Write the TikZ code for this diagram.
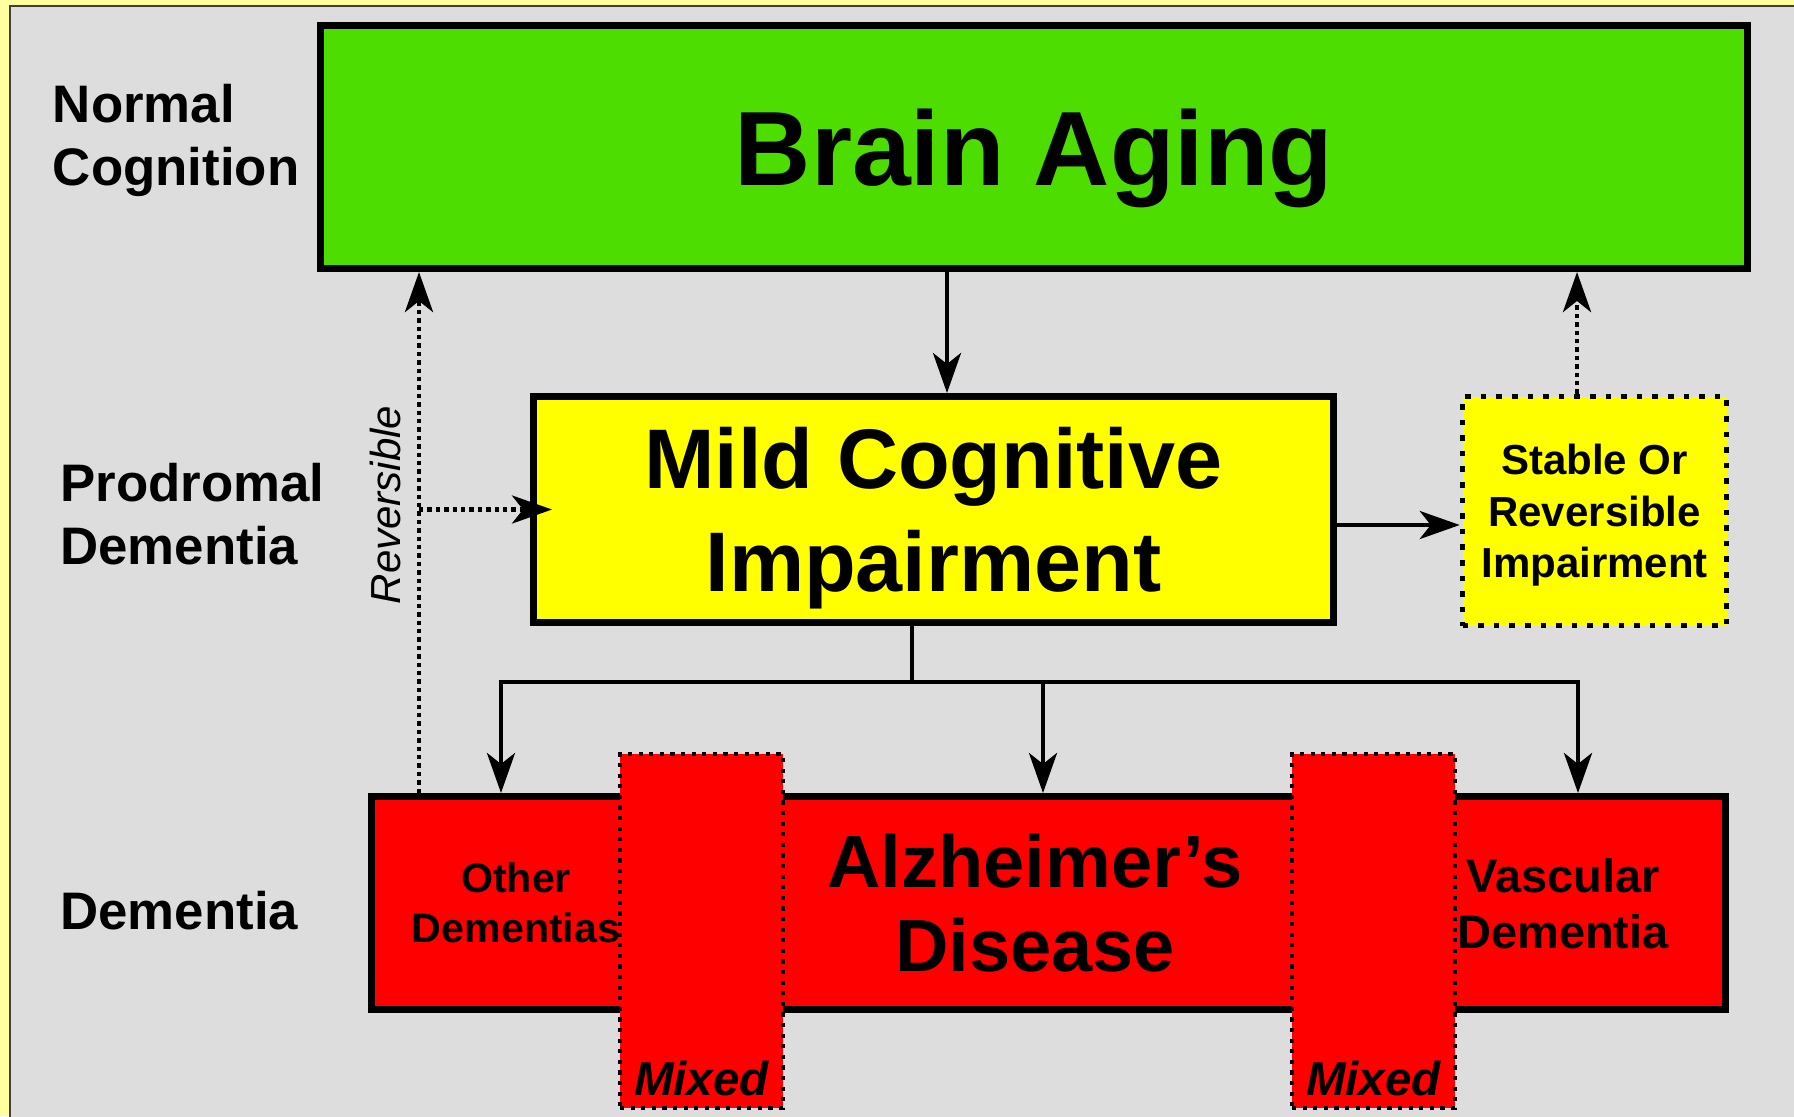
\documentclass[tikz,border=0pt]{standalone}
\usepackage{fontspec}
\setmainfont{Liberation Sans}
\usetikzlibrary{arrows.meta}
\definecolor{paleyellow}{HTML}{FFFFA0}
\definecolor{panelgray}{HTML}{DDDDDD}
\definecolor{braingreen}{HTML}{4EDD00}
\definecolor{mciyellow}{HTML}{FFFF00}
\definecolor{demred}{HTML}{FF0000}

\begin{document}
\begin{tikzpicture}[x=0.5pt,y=-0.5pt,
	box/.style={draw, line width=3.5pt, inner sep=0pt, align=center, text depth=0pt},
	mixbox/.style={draw, fill=demred, line width=2.1pt, dash pattern=on 2.1pt off 3.2pt, inner sep=0pt,
		minimum width=81.5pt, minimum height=177pt},
	rowlabel/.style={font=\bfseries\fontsize{26.4}{31.5}\selectfont, align=left, inner sep=0pt},
	demtext/.style={inner sep=0pt, align=center},
	arr/.style={line width=2.2pt, -{Stealth[length=20pt,width=14pt,inset=5.5pt]}},
	dotarr/.style={arr, line width=2.4pt, dash pattern=on 2.2pt off 2pt}]

	\useasboundingbox (0,0) rectangle (1794,1116);
	\fill[paleyellow] (0,0) rectangle (1794,1116);
	\filldraw[fill=panelgray, draw=black!75, line width=0.6pt] (10,6) rectangle (1804,1126);

	% row labels
	\node[rowlabel, anchor=west] (normal) at (52.5,140) {Normal\\Cognition};
	\node[rowlabel, anchor=west] (prodromal) at (60,514.6) {Prodromal\\Dementia};
	\node[rowlabel, anchor=base west] (dementia) at (60,929) {Dementia};

	% boxes
	\node[box, fill=braingreen, minimum width=713.5pt, minimum height=121.5pt,
		font=\bfseries\fontsize{52.8}{60}\selectfont] (brain) at (1034,147) {Brain Aging};
	\node[box, fill=mciyellow, minimum width=400pt, minimum height=113pt,
		font=\bfseries\fontsize{42.3}{51.5}\selectfont] (mci) at (933.5,509.5) {Mild Cognitive\\Impairment};
	\node[box, fill=mciyellow, line width=2.75pt, dash pattern=on 2.8pt off 5pt,
		minimum width=132pt, minimum height=114.5pt,
		font=\bfseries\fontsize{21}{25.75}\selectfont] (stable) at (1594.5,511) {Stable Or\\Reversible\\Impairment};
	\node[box, fill=demred, minimum width=677pt, minimum height=106.5pt] (dem) at (1048.5,903) {};
	\node[mixbox] (mixa) at (701.5,931) {};
	\node[mixbox] (mixb) at (1373.5,931) {};

	\node[demtext, font=\bfseries\fontsize{20.6}{25}\selectfont] (other) at (516,903) {Other\\Dementias};
	\node[demtext, font=\bfseries\fontsize{37}{42}\selectfont] (alz) at (1035,903.5) {Alzheimer’s\\Disease};
	\node[demtext, font=\bfseries\fontsize{23.5}{28}\selectfont] (vasc) at (1563,904) {Vascular\\Dementia};
	\node[inner sep=0pt, anchor=base, font=\bfseries\itshape\fontsize{23.8}{28}\selectfont] (mixtxta) at (701.5,1095) {Mixed};
	\node[inner sep=0pt, anchor=base, font=\bfseries\itshape\fontsize{23.8}{28}\selectfont] (mixtxtb) at (1373.5,1095) {Mixed};

	% connectors
	\coordinate (mcitop) at ([xshift=6.75pt]mci.north);
	\draw[arr] (brain.south -| mcitop) -- (mcitop);

	\coordinate (revx) at (419,0);
	\draw[dotarr] (dem.north -| revx) -- (brain.south -| revx);
	\draw[dotarr, shorten >=-11pt] (mci.west -| revx) -- (mci.west);
	\node[inner sep=0pt, rotate=90, anchor=base, font=\itshape\fontsize{21}{25}\selectfont] (revtxt) at (400,505) {Reversible};

	\coordinate (mciright) at ([yshift=-7.75pt]mci.east);
	\draw[arr] (mciright) -- (mciright -| stable.west);
	\coordinate (stabletop) at ([xshift=-8.75pt]stable.north);
	\draw[dotarr] (stabletop) -- (stabletop |- brain.south);

	\coordinate (split) at (912,682);
	\coordinate (toother) at (501,682);
	\coordinate (toalz) at (1043,682);
	\coordinate (tovasc) at (1578,682);
	\draw[line width=2.2pt] (mci.south -| split) -- (split);
	\draw[line width=2.2pt, line cap=rect] (toother) -- (tovasc);
	\draw[arr] (toother) -- (toother |- dem.north);
	\draw[arr] (toalz) -- (toalz |- dem.north);
	\draw[arr] (tovasc) -- (tovasc |- dem.north);
\end{tikzpicture}
\end{document}
